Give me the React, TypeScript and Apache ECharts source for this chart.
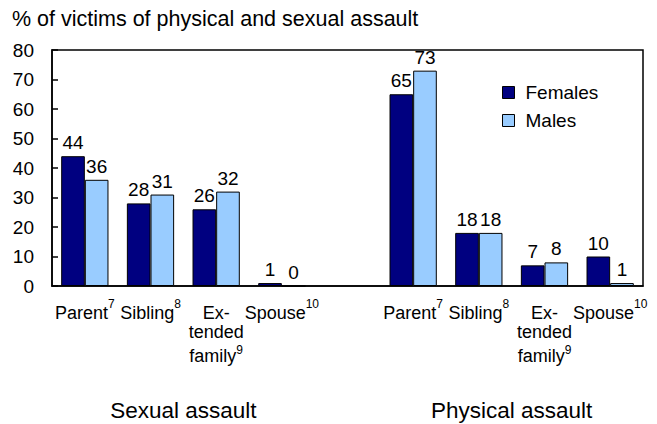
import React, { useEffect, useRef } from 'react';
import * as echarts from 'echarts';

const categories = ['Parent', 'Sibling', 'Ex-\ntended\nfamily', 'Spouse', '', 'Parent', 'Sibling', 'Ex-\ntended\nfamily', 'Spouse'];
const noteRefs = ['7', '8', '9', '10', '', '7', '8', '9', '10'];
const females = [44, 28, 26, 1, null, 65, 18, 7, 10];
const males = [36, 31, 32, 0, null, 73, 18, 8, 1];
const groups = [
  { label: 'Sexual assault', first: 0, last: 3 },
  { label: 'Physical assault', first: 5, last: 8 },
];
const seriesNames = ['Females', 'Males'];
const titleText = '% of victims of physical and sexual assault';

const FONT = 'Liberation Sans, Arial, sans-serif';

export default function App() {
  const ref = useRef<HTMLDivElement>(null);
  useEffect(() => {
    const chart = echarts.init(ref.current!, null, { renderer: 'svg' });
    const groupCenters = groups.map((g) => (g.first + g.last + 1) / 2);
    chart.setOption({
      animation: false,
      textStyle: { fontFamily: FONT },
      title: {
        text: titleText,
        left: 12,
        top: 8,
        padding: 0,
        textStyle: { fontSize: 21.5, fontWeight: 'normal', color: '#000', fontFamily: FONT },
      },
      legend: {
        data: seriesNames,
        orient: 'vertical',
        left: 502,
        top: 83,
        padding: 0,
        itemWidth: 12,
        itemHeight: 12,
        itemGap: 9,
        icon: 'rect',
        itemStyle: { borderColor: '#000', borderWidth: 1 },
        textStyle: { fontSize: 19, color: '#000', fontFamily: FONT, padding: [0, 0, 0, 6] },
      },
      grid: {
        left: 52,
        right: 14,
        top: 50,
        bottom: 138,
        show: true,
        borderColor: '#000',
        borderWidth: 1.5,
        containLabel: false,
      },
      xAxis: [
        {
          type: 'category',
          data: categories,
          axisLine: { lineStyle: { color: '#000', width: 1.5 } },
          axisTick: { show: false },
          axisLabel: {
            interval: 0,
            margin: 12,
            formatter: (value: string, index: number) => {
              const lines = value.split('\n');
              const note = noteRefs[index];
              return lines
                .map((ln, i) => {
                  const st = i === 0 ? 'a' : 'b';
                  const isLast = i === lines.length - 1;
                  let sup = '';
                  if (isLast && note) sup = lines.length > 1 ? `{t|${note}}` : `{s|${note}}`;
                  return `{${st}|${ln}}${sup}`;
                })
                .join('\n');
            },
            rich: {
              a: { fontFamily: FONT, fontSize: 18, color: '#000', lineHeight: 22, padding: [8, 0, 0, 0] },
              b: { fontFamily: FONT, fontSize: 18, color: '#000', lineHeight: 24 },
              s: { fontFamily: FONT, fontSize: 12, color: '#000', lineHeight: 14, verticalAlign: 'top' },
              t: { fontFamily: FONT, fontSize: 12, color: '#000', lineHeight: 14, verticalAlign: 'top' },
            },
          },
        },
        {
          type: 'value',
          min: 0,
          max: categories.length,
          position: 'bottom',
          axisLine: { show: false },
          axisTick: { show: false },
          splitLine: { show: false },
          axisLabel: {
            customValues: groupCenters,
            formatter: (v: number) => {
              const i = groupCenters.indexOf(v);
              return i >= 0 ? groups[i].label : '';
            },
            margin: 113,
            fontSize: 22.5,
            color: '#000',
            fontFamily: FONT,
          },
        },
      ],
      yAxis: {
        type: 'value',
        min: 0,
        max: 80,
        interval: 10,
        axisLine: { show: true, lineStyle: { color: '#000', width: 1.5 } },
        axisTick: { show: true, inside: true, length: 6, lineStyle: { color: '#000', width: 1.5 } },
        splitLine: { show: false },
        axisLabel: { fontSize: 19, color: '#000', margin: 18, fontFamily: FONT },
      },
      series: [
        {
          name: seriesNames[0],
          type: 'bar',
          data: females,
          barGap: '0%',
          barCategoryGap: '28%',
          itemStyle: { color: '#000080', borderColor: '#000', borderWidth: 1 },
          label: { show: true, position: 'top', distance: 4, fontSize: 19, color: '#000', fontFamily: FONT },
        },
        {
          name: seriesNames[1],
          type: 'bar',
          data: males,
          barGap: '0%',
          barCategoryGap: '28%',
          itemStyle: { color: '#99CCFF', borderColor: '#000', borderWidth: 1 },
          label: { show: true, position: 'top', distance: 4, fontSize: 19, color: '#000', fontFamily: FONT },
        },
      ],
    });
    return () => chart.dispose();
  }, []);
  return <div ref={ref} style={{ position: 'absolute', left: 0, top: 0, width: 657, height: 424 }} />;
}
